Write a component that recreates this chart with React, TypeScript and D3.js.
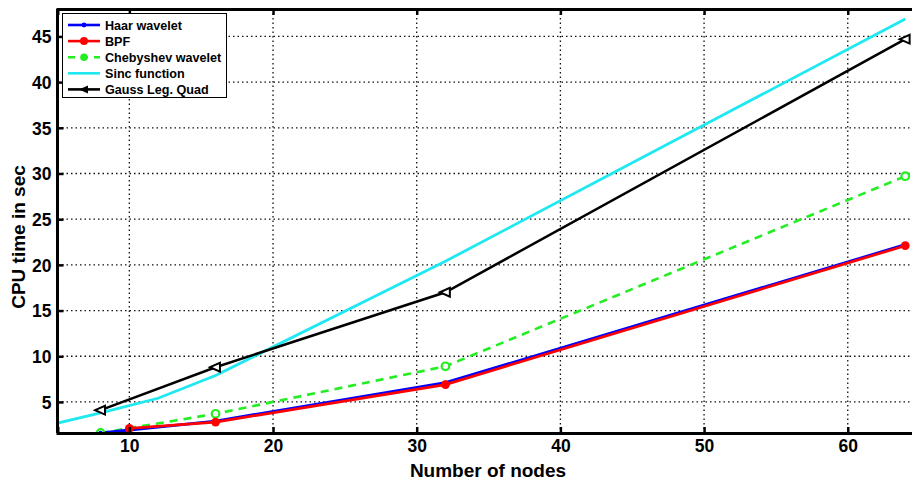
import React, { useRef, useEffect } from 'react';
import * as d3 from 'd3';

// datos
const haarX = [8, 16, 32, 64];
const haarY = [1.6, 2.9, 7.1, 22.2];

const bpfX = [10, 16, 32, 64];
const bpfY = [2.1, 2.8, 6.9, 22.1];

const chebX = [8, 16, 32, 64];
const chebY = [1.6, 3.7, 8.9, 29.7];

const sincX = [4, 8, 12, 16, 32, 64];
const sincY = [2.3, 3.8, 5.4, 7.9, 20.4, 46.9];

const gaussX = [8, 16, 32, 64];
const gaussY = [4.1, 8.8, 17.0, 44.7];

const xTicks = [10, 20, 30, 40, 50, 60];
const yTicks = [5, 10, 15, 20, 25, 30, 35, 40, 45];

const legendLabels = ['Haar wavelet', 'BPF', 'Chebyshev wavelet', 'Sinc function', 'Gauss Leg. Quad'];

const font = '"Liberation Sans", Arial, sans-serif';

const plot = (svgRef: React.RefObject<SVGSVGElement>) => {
  const svgEl = d3.select(svgRef.current);
  svgEl.selectAll('*').remove();

  const margin = { left: 57.5, right: 919.6, top: 9, bottom: 433 };

  const xScale = d3.scaleLinear().domain([5, 65]).range([margin.left, margin.right]);
  const yScale = d3.scaleLinear().domain([1.6, 48]).range([margin.bottom, margin.top]);

  const svg = svgEl.append('g');

  // clip para las curvas
  svg.append('clipPath').attr('id', 'plotclip')
    .append('rect')
    .attr('x', margin.left).attr('y', margin.top)
    .attr('width', margin.right - margin.left).attr('height', margin.bottom - margin.top);

  // rejilla punteada
  const grid = svg.append('g');
  grid.selectAll('line.gy').data(yTicks).enter().append('line')
    .attr('x1', margin.left).attr('x2', margin.right)
    .attr('y1', d => yScale(d)).attr('y2', d => yScale(d))
    .attr('stroke', '#111').attr('stroke-width', 1.3)
    .attr('stroke-dasharray', '1.5,3');
  grid.selectAll('line.gx').data(xTicks).enter().append('line')
    .attr('y1', margin.top).attr('y2', margin.bottom)
    .attr('x1', d => xScale(d)).attr('x2', d => xScale(d))
    .attr('stroke', '#111').attr('stroke-width', 1.3)
    .attr('stroke-dasharray', '1.5,3');

  const series = svg.append('g').attr('clip-path', 'url(#plotclip)');
  const line = d3.line<[number, number]>().x(d => xScale(d[0])).y(d => yScale(d[1]));
  const pts = (xs: number[], ys: number[]) => xs.map((x, i) => [x, ys[i]] as [number, number]);

  // Sinc
  series.append('path').datum(pts(sincX, sincY))
    .attr('fill', 'none').attr('stroke', '#1ee8f0').attr('stroke-width', 2.8)
    .attr('d', line);

  // Gauss
  series.append('path').datum(pts(gaussX, gaussY))
    .attr('fill', 'none').attr('stroke', '#000').attr('stroke-width', 2.5)
    .attr('d', line);

  // Chebyshev
  series.append('path').datum(pts(chebX, chebY))
    .attr('fill', 'none').attr('stroke', '#22ee22').attr('stroke-width', 2.6)
    .attr('stroke-dasharray', '8,6')
    .attr('d', line);

  // Haar
  series.append('path').datum(pts(haarX, haarY))
    .attr('fill', 'none').attr('stroke', '#0000ff').attr('stroke-width', 3)
    .attr('d', line);

  // BPF
  series.append('path').datum(pts(bpfX, bpfY))
    .attr('fill', 'none').attr('stroke', '#ff0000').attr('stroke-width', 2.7)
    .attr('d', line);

  // marcadores
  const tri = (cx: number, cy: number, s: number) =>
    `M${cx - s},${cy} L${cx + s * 0.8},${cy - s * 0.8} L${cx + s * 0.8},${cy + s * 0.8} Z`;

  series.selectAll('path.gm').data(pts(gaussX, gaussY)).enter().append('path')
    .attr('d', d => tri(xScale(d[0]), yScale(d[1]), 5.5))
    .attr('fill', '#fff').attr('stroke', '#000').attr('stroke-width', 2);

  series.selectAll('circle.cm').data(pts(chebX, chebY)).enter().append('circle')
    .attr('cx', d => xScale(d[0])).attr('cy', d => yScale(d[1])).attr('r', 3.8)
    .attr('fill', '#fff').attr('stroke', '#22ee22').attr('stroke-width', 2.2);

  series.selectAll('circle.hm').data(pts(haarX, haarY)).enter().append('circle')
    .attr('cx', d => xScale(d[0])).attr('cy', d => yScale(d[1])).attr('r', 2.2)
    .attr('fill', '#0000ff');

  series.selectAll('circle.bm').data(pts(bpfX, bpfY)).enter().append('circle')
    .attr('cx', d => xScale(d[0])).attr('cy', d => yScale(d[1])).attr('r', 4.4)
    .attr('fill', '#ff0000');

  // ejes
  const yAxis = d3.axisLeft(yScale).tickValues(yTicks).tickSize(-6).tickPadding(6)
    .tickFormat(d3.format('d'));
  const xAxis = d3.axisBottom(xScale).tickValues(xTicks).tickSize(-6).tickPadding(7)
    .tickFormat(d3.format('d'));

  const gy = svg.append('g').attr('transform', `translate(${margin.left},0)`).call(yAxis);
  const gx = svg.append('g').attr('transform', `translate(0,${margin.bottom})`).call(xAxis);
  const gt = svg.append('g').attr('transform', `translate(0,${margin.top})`)
    .call(d3.axisTop(xScale).tickValues(xTicks).tickSize(-6).tickFormat(() => ''));

  [gy, gx, gt].forEach(g => {
    g.select('.domain').attr('stroke', '#000').attr('stroke-width', 3);
    g.selectAll('.tick line').attr('stroke', '#000').attr('stroke-width', 2.5);
    g.selectAll('.tick text')
      .attr('fill', '#000')
      .style('font-family', font)
      .style('font-weight', 'bold')
      .style('font-size', '17.5px');
  });
  gy.select('.domain').attr('d', `M0,${margin.bottom}V${margin.top}`);
  gy.selectAll('.tick text').attr('dy', '0.36em');

  // titulos
  svg.append('text')
    .attr('x', 488).attr('y', 477)
    .attr('text-anchor', 'middle')
    .style('font-family', font).style('font-weight', 'bold').style('font-size', '19px')
    .text('Number of nodes');

  svg.append('text')
    .attr('transform', 'translate(25,237) rotate(-90)')
    .attr('text-anchor', 'middle')
    .style('font-family', font).style('font-weight', 'bold').style('font-size', '19px')
    .text('CPU time in sec');

  // leyenda
  const leg = svg.append('g');
  leg.append('rect')
    .attr('x', 62.5).attr('y', 13.5).attr('width', 164).attr('height', 84)
    .attr('fill', '#fff').attr('stroke', '#000').attr('stroke-width', 1);

  const colors = ['#0000ff', '#ff0000', '#22ee22', '#1ee8f0', '#000'];
  legendLabels.forEach((lab, i) => {
    const y = 25 + i * 16.1;
    const x1 = 68, x2 = 100, xm = 84;
    leg.append('line')
      .attr('x1', x1).attr('x2', x2).attr('y1', y).attr('y2', y)
      .attr('stroke', colors[i]).attr('stroke-width', 2.6)
      .attr('stroke-dasharray', i === 2 ? '7,6' : null);
    if (i === 0) leg.append('circle').attr('cx', xm).attr('cy', y).attr('r', 2.4).attr('fill', colors[i]);
    if (i === 1) leg.append('circle').attr('cx', xm).attr('cy', y).attr('r', 4).attr('fill', colors[i]);
    if (i === 2) leg.append('circle').attr('cx', xm).attr('cy', y).attr('r', 3.8).attr('fill', colors[i]);
    if (i === 4) leg.append('path').attr('d', tri(xm, y, 5)).attr('fill', '#000');
    leg.append('text')
      .attr('x', 105).attr('y', y).attr('dy', '0.36em')
      .style('font-family', font).style('font-weight', 'bold').style('font-size', '12.6px')
      .text(lab);
  });
};

export default function App() {
  const svgRef = useRef<SVGSVGElement>(null);

  useEffect(() => {
    plot(svgRef);
  }, []);

  return (
    <svg
      ref={svgRef}
      width={912}
      height={482}
      style={{ position: 'absolute', left: 0, top: 0, background: '#fff' }}
    />
  );
}
